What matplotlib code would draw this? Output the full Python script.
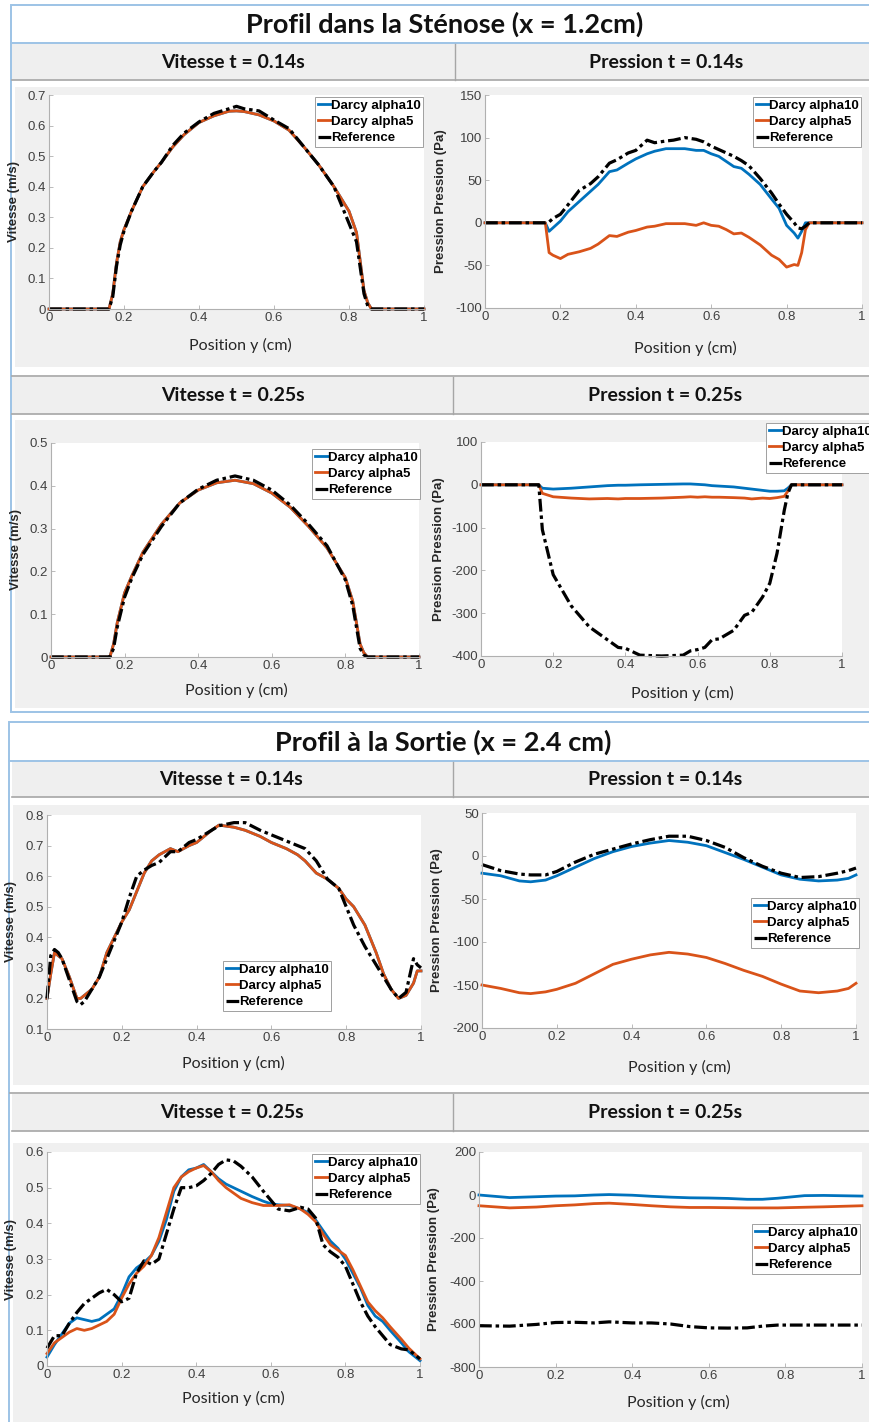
import matplotlib
matplotlib.use("Agg")
import matplotlib.pyplot as plt
from matplotlib.patches import Rectangle
from matplotlib.lines import Line2D
from matplotlib.ticker import FuncFormatter

# ---------- data ----------
labels = ["Darcy alpha10", "Darcy alpha5", "Reference"]

# Sténose, vitesse t=0.14s
y1 = [0, 0.16, 0.17, 0.18, 0.19, 0.2, 0.22, 0.25, 0.28, 0.3, 0.33, 0.36, 0.4, 0.44, 0.48, 0.5,
      0.52, 0.56, 0.6, 0.64, 0.68, 0.72, 0.76, 0.8, 0.82, 0.84, 0.85, 0.86, 1.0]
v1_a5 = [0, 0, 0.05, 0.15, 0.22, 0.26, 0.32, 0.4, 0.45, 0.48, 0.53, 0.57, 0.61, 0.632, 0.647, 0.648,
         0.646, 0.635, 0.615, 0.585, 0.53, 0.47, 0.4, 0.32, 0.25, 0.06, 0.02, 0, 0]
v1_a10 = v1_a5
v1_ref = [0, 0, 0.04, 0.14, 0.21, 0.255, 0.32, 0.4, 0.45, 0.48, 0.535, 0.575, 0.612, 0.64, 0.655, 0.663,
          0.655, 0.648, 0.618, 0.59, 0.53, 0.47, 0.4, 0.28, 0.22, 0.05, 0.01, 0, 0]

# Sténose, pression t=0.14s
y2 = [0, 0.16, 0.17, 0.18, 0.2, 0.22, 0.25, 0.28, 0.3, 0.33, 0.35, 0.38, 0.4, 0.43, 0.45, 0.48, 0.5,
      0.53, 0.56, 0.58, 0.6, 0.62, 0.64, 0.66, 0.68, 0.7, 0.73, 0.76, 0.78, 0.8, 0.82, 0.83, 0.84,
      0.85, 0.86, 1.0]
p2_a10 = [0, 0, -10, -6, 2, 13, 25, 37, 45, 60, 62, 70, 75, 81, 84, 87, 87, 87, 85, 85, 81, 78, 72,
          66, 64, 57, 45, 28, 17, -3, -12, -18, -10, 0, 0, 0]
p2_a5 = [0, 0, -35, -38, -42, -37, -34, -30, -25, -15, -16, -11, -9, -5, -4, -1, -1, -1, -3, 0, -3,
         -4, -8, -13, -12, -17, -26, -38, -43, -52, -49, -50, -35, -8, 0, 0]
p2_ref = [0, 0, 1, 5, 10, 21, 38, 46, 54, 70, 74, 82, 85, 97, 94, 96, 97, 100, 98, 95, 90, 86, 82,
          78, 73, 67, 52, 35, 22, 10, 0, -6, -7, -4, 0, 0]

# Sténose, vitesse t=0.25s
y3 = [0, 0.16, 0.17, 0.18, 0.2, 0.22, 0.25, 0.3, 0.35, 0.4, 0.45, 0.5, 0.55, 0.6, 0.65, 0.7, 0.75,
      0.8, 0.82, 0.84, 0.85, 0.86, 1.0]
v3_a5 = [0, 0, 0.03, 0.08, 0.15, 0.19, 0.245, 0.31, 0.36, 0.39, 0.407, 0.413, 0.405, 0.383, 0.35,
         0.305, 0.255, 0.185, 0.13, 0.03, 0.01, 0, 0]
v3_a10 = v3_a5
v3_ref = [0, 0, 0.02, 0.07, 0.14, 0.185, 0.24, 0.305, 0.36, 0.392, 0.413, 0.423, 0.413, 0.39, 0.355,
          0.31, 0.26, 0.18, 0.12, 0.02, 0.005, 0, 0]

# Sténose, pression t=0.25s
y4 = [0, 0.16, 0.17, 0.2, 0.25, 0.3, 0.35, 0.38, 0.4, 0.44, 0.5, 0.56, 0.58, 0.6, 0.62, 0.64, 0.66,
      0.7, 0.73, 0.75, 0.78, 0.8, 0.82, 0.84, 0.85, 0.86, 1.0]
p4_a10 = [0, 0, -8, -10, -8, -5, -2, -1, -1, 0, 1, 2, 2, 1, 0, -2, -3, -5, -8, -10, -13, -15, -15,
          -14, -8, 0, 0]
p4_a5 = [0, 0, -20, -28, -31, -33, -32, -33, -32, -32, -31, -29, -28, -29, -28, -29, -29, -30, -31,
         -33, -31, -32, -30, -27, -15, 0, 0]
p4_ref = [0, 0, -105, -210, -283, -332, -362, -380, -382, -398, -400, -398, -388, -385, -380, -362,
          -360, -340, -305, -298, -262, -230, -160, -60, -20, 0, 0]

# Sortie, vitesse t=0.14s
y5 = [0, 0.01, 0.02, 0.03, 0.04, 0.06, 0.08, 0.09, 0.1, 0.12, 0.14, 0.16, 0.18, 0.2, 0.22, 0.24,
      0.26, 0.28, 0.3, 0.33, 0.35, 0.38, 0.4, 0.42, 0.44, 0.46, 0.5, 0.53, 0.57, 0.6, 0.64, 0.67,
      0.69, 0.72, 0.75, 0.78, 0.8, 0.82, 0.85, 0.88, 0.9, 0.92, 0.94, 0.96, 0.98, 0.99, 1.0]
v5_a5 = [0.2, 0.28, 0.35, 0.34, 0.33, 0.27, 0.2, 0.2, 0.21, 0.23, 0.27, 0.35, 0.4, 0.45, 0.49, 0.55,
         0.61, 0.65, 0.67, 0.69, 0.68, 0.7, 0.71, 0.73, 0.75, 0.767, 0.76, 0.75, 0.73, 0.71, 0.69,
         0.67, 0.65, 0.61, 0.59, 0.56, 0.525, 0.5, 0.44, 0.35, 0.28, 0.23, 0.2, 0.21, 0.25, 0.29, 0.29]
v5_a10 = v5_a5
v5_ref = [0.2, 0.34, 0.36, 0.35, 0.33, 0.26, 0.19, 0.18, 0.19, 0.23, 0.27, 0.33, 0.39, 0.45, 0.53,
          0.6, 0.62, 0.635, 0.645, 0.68, 0.68, 0.71, 0.72, 0.735, 0.75, 0.765, 0.775, 0.775, 0.75,
          0.735, 0.715, 0.7, 0.69, 0.65, 0.59, 0.56, 0.5, 0.44, 0.37, 0.31, 0.27, 0.23, 0.2, 0.22,
          0.33, 0.31, 0.3]

# Sortie, pression t=0.14s
y6 = [0, 0.05, 0.1, 0.13, 0.17, 0.2, 0.25, 0.3, 0.35, 0.4, 0.45, 0.5, 0.55, 0.6, 0.65, 0.7, 0.75,
      0.8, 0.85, 0.9, 0.95, 0.98, 1.0]
p6_a10 = [-20, -23, -29, -30, -28, -23, -13, -3, 5, 11, 15, 18, 16, 12, 4, -4, -13, -22, -27, -29,
          -28, -26, -22]
p6_a5 = [-150, -154, -159, -160, -158, -155, -148, -137, -126, -120, -115, -112, -114, -118, -125,
         -133, -140, -149, -157, -159, -157, -154, -148]
p6_ref = [-10, -17, -21, -22, -22, -18, -7, 2, 8, 14, 19, 23, 23, 18, 10, -2, -12, -20, -25, -24,
          -20, -17, -14]

# Sortie, vitesse t=0.25s
y7 = [0, 0.02, 0.04, 0.06, 0.08, 0.1, 0.12, 0.14, 0.16, 0.18, 0.2, 0.22, 0.24, 0.26, 0.28, 0.3,
      0.32, 0.34, 0.36, 0.38, 0.4, 0.42, 0.44, 0.46, 0.48, 0.5, 0.52, 0.55, 0.58, 0.6, 0.62, 0.65,
      0.68, 0.7, 0.72, 0.74, 0.76, 0.78, 0.8, 0.82, 0.84, 0.86, 0.88, 0.9, 0.92, 0.95, 0.97, 1.0]
v7_a10 = [0.025, 0.06, 0.09, 0.12, 0.135, 0.13, 0.125, 0.13, 0.145, 0.16, 0.2, 0.25, 0.275, 0.29,
          0.31, 0.35, 0.41, 0.49, 0.53, 0.55, 0.555, 0.565, 0.545, 0.525, 0.51, 0.5, 0.49, 0.475,
          0.462, 0.455, 0.452, 0.45, 0.44, 0.43, 0.41, 0.38, 0.35, 0.33, 0.3, 0.26, 0.22, 0.17,
          0.14, 0.125, 0.1, 0.065, 0.04, 0.015]
v7_a5 = [0.035, 0.065, 0.08, 0.095, 0.105, 0.1, 0.105, 0.115, 0.125, 0.145, 0.19, 0.23, 0.26, 0.28,
         0.31, 0.36, 0.43, 0.5, 0.53, 0.545, 0.555, 0.562, 0.545, 0.52, 0.5, 0.485, 0.47, 0.458,
         0.45, 0.45, 0.45, 0.452, 0.44, 0.425, 0.405, 0.37, 0.34, 0.325, 0.31, 0.27, 0.225, 0.18,
         0.155, 0.135, 0.11, 0.075, 0.05, 0.02]
v7_ref = [0.05, 0.085, 0.085, 0.12, 0.15, 0.175, 0.19, 0.205, 0.215, 0.2, 0.18, 0.19, 0.26, 0.295,
          0.285, 0.3, 0.37, 0.44, 0.5, 0.5, 0.505, 0.52, 0.54, 0.565, 0.578, 0.575, 0.56, 0.53,
          0.49, 0.465, 0.44, 0.435, 0.445, 0.44, 0.415, 0.34, 0.32, 0.305, 0.28, 0.23, 0.18, 0.14,
          0.11, 0.085, 0.06, 0.048, 0.045, 0.02]

# Sortie, pression t=0.25s
y8 = [0, 0.08, 0.15, 0.2, 0.25, 0.3, 0.34, 0.4, 0.45, 0.5, 0.55, 0.6, 0.65, 0.7, 0.74, 0.78, 0.85,
      0.9, 1.0]
p8_a10 = [0, -12, -8, -5, -4, 0, 2, -1, -6, -10, -13, -14, -16, -20, -20, -15, -3, -2, -5]
p8_a5 = [-50, -60, -56, -50, -46, -40, -38, -44, -50, -55, -58, -58, -59, -60, -60, -60, -57, -55, -50]
p8_ref = [-608, -610, -602, -593, -592, -595, -590, -595, -595, -600, -612, -618, -619, -618, -610,
          -605, -605, -605, -605]

# ---------- layout helpers (pixel coordinates) ----------
W, H = 869, 1422
fig = plt.figure(figsize=(W / 100, H / 100), dpi=100)
fig.patch.set_facecolor("white")

BLUE_EDGE = "#9dc3e6"
HEAD_GRAY = "#efefef"
PANEL_GRAY = "#f0f0f0"
LINE_GRAY = "#a6a6a6"


def fx(px):
    return px / W


def fy(py):
    return 1 - py / H


def box(x0, y0, x1, y1, face, edge="none", lw=0, z=-3):
    fig.add_artist(Rectangle((fx(x0), fy(y1)), fx(x1) - fx(x0), fy(y0) - fy(y1),
                             transform=fig.transFigure, facecolor=face, edgecolor=edge,
                             linewidth=lw, zorder=z))


def line(x0, y0, x1, y1, color, lw=1.0):
    fig.add_artist(Line2D([fx(x0), fx(x1)], [fy(y0), fy(y1)], color=color, lw=lw, zorder=-1))


def header(y0, y1, xdiv, left_txt, right_txt, xl, xr):
    box(12, y0, 869, y1, HEAD_GRAY)
    line(12, y1, 869, y1, LINE_GRAY, 1.2)
    line(xdiv, y0, xdiv, y1, LINE_GRAY, 1.0)
    ym = (y0 + y1) / 2
    for x, txt in [(xl, left_txt), (xr, right_txt)]:
        fig.text(fx(x), fy(ym), txt, ha="center", va="center", fontsize=14,
                 fontfamily="Lato", fontweight="bold", color="#111111")


# ---------- block 1 : sténose ----------
box(11, 5, 871, 712, "white", BLUE_EDGE, 1.4, z=-4)
line(11, 43, 869, 43, BLUE_EDGE, 1.4)
fig.text(fx(445), fy(24), "Profil dans la Sténose (x = 1.2cm)", ha="center", va="center",
         fontsize=19.5, fontfamily="Lato", fontweight="bold", color="#111111")
header(44, 80, 455, "Vitesse t = 0.14s", "Pression t = 0.14s", 233, 666)
box(15, 87, 869, 367, PANEL_GRAY)
line(12, 376, 869, 376, LINE_GRAY, 1.2)
header(377, 414, 453, "Vitesse t = 0.25s", "Pression t = 0.25s", 233, 665)
box(15, 420, 869, 708, PANEL_GRAY)

# ---------- block 2 : sortie ----------
box(9, 722, 871, 1430, "white", BLUE_EDGE, 1.4, z=-4)
line(9, 761, 869, 761, BLUE_EDGE, 1.4)
fig.text(fx(443), fy(742), "Profil à la Sortie (x = 2.4 cm)", ha="center", va="center",
         fontsize=19.5, fontfamily="Lato", fontweight="bold", color="#111111")
header(762, 797, 453, "Vitesse t = 0.14s", "Pression t = 0.14s", 231, 665)
box(13, 805, 869, 1085, PANEL_GRAY)
line(10, 1093, 869, 1093, LINE_GRAY, 1.2)
header(1094, 1131, 453, "Vitesse t = 0.25s", "Pression t = 0.25s", 232, 665)
box(13, 1143, 869, 1422, PANEL_GRAY)

# ---------- plots ----------
C10 = "#0072bd"
C5 = "#d95319"


def panel(pos, ys, s10, s5, sref, ylim, yticks, ylabel, ylab_x, xlab, leg):
    x0, x1, yt, yb = pos
    ax = fig.add_axes([fx(x0), fy(yb), fx(x1) - fx(x0), fy(yt) - fy(yb)])
    ax.plot(ys, s10, color=C10, lw=2.0, label=labels[0], clip_on=False)
    ax.plot(ys, s5, color=C5, lw=2.0, label=labels[1], clip_on=False)
    ax.plot(ys, sref, color="black", lw=2.3, ls=(0, (4, 1.2, 1.1, 1.2)), label=labels[2],
            clip_on=False)
    ax.set_xlim(0, 1)
    ax.set_ylim(*ylim)
    ax.set_xticks([0, 0.2, 0.4, 0.6, 0.8, 1])
    ax.set_yticks(yticks)
    fmt = FuncFormatter(lambda v, p: "%g" % v)
    ax.xaxis.set_major_formatter(fmt)
    ax.yaxis.set_major_formatter(fmt)
    for s in ["top", "right"]:
        ax.spines[s].set_visible(False)
    for s in ["left", "bottom"]:
        ax.spines[s].set_color("#b0b0b0")
        ax.spines[s].set_linewidth(0.8)
    ax.tick_params(direction="in", length=3, width=0.6, color="#b0b0b0", labelcolor="#404040",
                   labelsize=9.5, pad=2)
    for t in ax.get_xticklabels() + ax.get_yticklabels():
        t.set_fontfamily("Liberation Sans")
    ax.set_ylabel(ylabel, fontsize=9.5, fontweight="bold", fontfamily="Liberation Sans",
                  color="#262626")
    ax.yaxis.set_label_coords((ylab_x - x0) / (x1 - x0), 0.5)
    fig.text(fx(xlab[0]), fy(xlab[1]), "Position y (cm)", ha="center", va="center",
             fontsize=11.5, fontfamily="Lato", color="#262626")
    lg = ax.legend(loc="upper left", bbox_to_anchor=(fx(leg[0]), fy(leg[1])),
                   bbox_transform=fig.transFigure, borderaxespad=0, fancybox=False,
                   framealpha=1, edgecolor="#a0a0a0", borderpad=0.2, handlelength=1.0,
                   handletextpad=0.0, labelspacing=0.3,
                   prop={"family": "Liberation Sans", "weight": "bold", "size": 9.5})
    lg.get_frame().set_linewidth(0.7)
    return ax


panel((49, 424, 95, 309), y1, v1_a10, v1_a5, v1_ref, (0, 0.7),
      [0, 0.1, 0.2, 0.3, 0.4, 0.5, 0.6, 0.7], "Vitesse (m/s)", 20, (240, 345), (315, 97))
panel((485, 862, 95, 308), y2, p2_a10, p2_a5, p2_ref, (-100, 150),
      [-100, -50, 0, 50, 100, 150], "Pression Pression (Pa)", 447, (685, 348), (753, 97))
panel((51, 419, 443, 657), y3, v3_a10, v3_a5, v3_ref, (0, 0.5),
      [0, 0.1, 0.2, 0.3, 0.4, 0.5], "Vitesse (m/s)", 22, (236, 690), (312, 449))
panel((481, 842, 442, 656), y4, p4_a10, p4_a5, p4_ref, (-400, 100),
      [-400, -300, -200, -100, 0, 100], "Pression Pression (Pa)", 445, (682, 693), (766, 423))
panel((47, 421, 815, 1029), y5, v5_a10, v5_a5, v5_ref, (0.1, 0.8),
      [0.1, 0.2, 0.3, 0.4, 0.5, 0.6, 0.7, 0.8], "Vitesse (m/s)", 17, (233, 1063), (223, 961))
panel((482, 856, 813, 1028), y6, p6_a10, p6_a5, p6_ref, (-200, 50),
      [-200, -150, -100, -50, 0, 50], "Pression Pression (Pa)", 443, (679, 1067), (751, 898))
panel((47, 420, 1152, 1366), y7, v7_a10, v7_a5, v7_ref, (0, 0.6),
      [0, 0.1, 0.2, 0.3, 0.4, 0.5, 0.6], "Vitesse (m/s)", 17, (233, 1398), (312, 1154))
panel((479, 862, 1152, 1367), y8, p8_a10, p8_a5, p8_ref, (-800, 200),
      [-800, -600, -400, -200, 0, 200], "Pression Pression (Pa)", 440, (678, 1402), (752, 1224))

fig.savefig("out.png", dpi=100)
